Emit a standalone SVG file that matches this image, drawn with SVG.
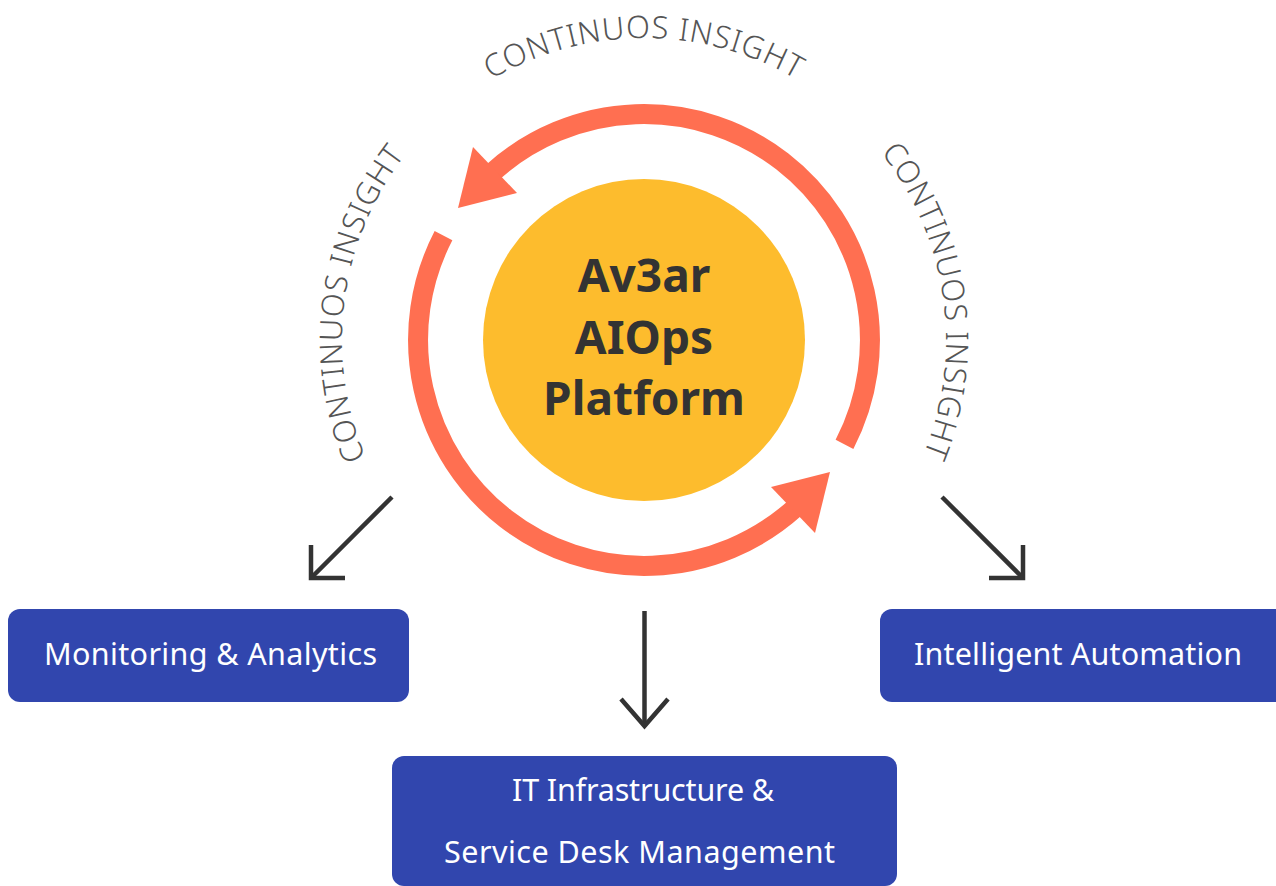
<svg xmlns="http://www.w3.org/2000/svg" width="1276" height="886" viewBox="0 0 1276 886">
  <defs>
    <style>
      .ring { fill: none; stroke: #FF6F51; stroke-width: 20; stroke-linecap: butt; }
      .head { fill: #FF6F51; }
      .title { font-family: "Noto Sans", "Liberation Sans", sans-serif; font-weight: 700; font-size: 46px; fill: #333333; text-anchor: middle; }
      .arc-label { font-family: "Noto Sans", "Liberation Sans", sans-serif; font-weight: 300; font-size: 31px; letter-spacing: 0.9px; fill: #555555; }
      .box { fill: #3146AE; }
      .box-label { font-family: "Noto Sans", "Liberation Sans", sans-serif; font-weight: 400; font-size: 30.5px; fill: #FFFFFF; text-anchor: middle; }
      .conn { fill: none; stroke: #333333; stroke-width: 4.5; stroke-linecap: butt; stroke-linejoin: miter; }
    </style>
    <path id="arcTop" d="M 430.5 126.5 A 302 302 0 0 1 857.5 126.5"/>
    <path id="arcLeft" d="M 404.4 523.9 A 302 302 0 0 1 460.1 100.4"/>
    <path id="arcRight" d="M 825.7 98.8 A 302 302 0 0 1 885.2 521.7"/>
    <g id="cycleArrow">
      <path class="ring" d="M 844.5 444.3 A 226 226 0 0 0 492.8 172.1"/>
      <polygon class="head" points="473,147 517,193 458,208"/>
    </g>
  </defs>

  <g id="cycle">
    <use href="#cycleArrow"/>
    <use href="#cycleArrow" transform="rotate(180 644 340)"/>
  </g>

  <g id="platform">
    <circle cx="644" cy="340" r="161" fill="#FDBC2D"/>
    <text class="title" x="644" y="292">Av3ar</text>
    <text class="title" x="644" y="354">AIOps</text>
    <text class="title" x="644" y="415">Platform</text>
  </g>

  <g id="insight-labels">
    <text class="arc-label"><textPath href="#arcTop" startOffset="50%" text-anchor="middle">CONTINUOS INSIGHT</textPath></text>
    <text class="arc-label"><textPath href="#arcLeft" startOffset="50%" text-anchor="middle">CONTINUOS INSIGHT</textPath></text>
    <text class="arc-label"><textPath href="#arcRight" startOffset="50%" text-anchor="middle">CONTINUOS INSIGHT</textPath></text>
  </g>

  <g id="connectors">
    <path class="conn" d="M 392 497 L 311 578"/>
    <path class="conn" d="M 311 545 L 311 578 L 345 578"/>
    <path class="conn" d="M 644.5 611 L 644.5 726"/>
    <path class="conn" d="M 621 699 L 644.5 726 L 668 699"/>
    <path class="conn" d="M 942 497 L 1023 578"/>
    <path class="conn" d="M 1023 545 L 1023 578 L 989 578"/>
  </g>

  <g id="monitoring">
    <rect class="box" x="8" y="609" width="401" height="93" rx="12"/>
    <text class="box-label" x="210.5" y="665" textLength="333" lengthAdjust="spacing">Monitoring &amp; Analytics</text>
  </g>

  <g id="automation">
    <rect class="box" x="880" y="609" width="410" height="93" rx="12"/>
    <text class="box-label" x="1078" y="665" textLength="328" lengthAdjust="spacing">Intelligent Automation</text>
  </g>

  <g id="itsm">
    <rect class="box" x="392" y="756" width="505" height="130" rx="12"/>
    <text class="box-label" x="643" y="801" textLength="262" lengthAdjust="spacing">IT Infrastructure &amp;</text>
    <text class="box-label" x="639.5" y="863" textLength="391" lengthAdjust="spacing">Service Desk Management</text>
  </g>
</svg>
